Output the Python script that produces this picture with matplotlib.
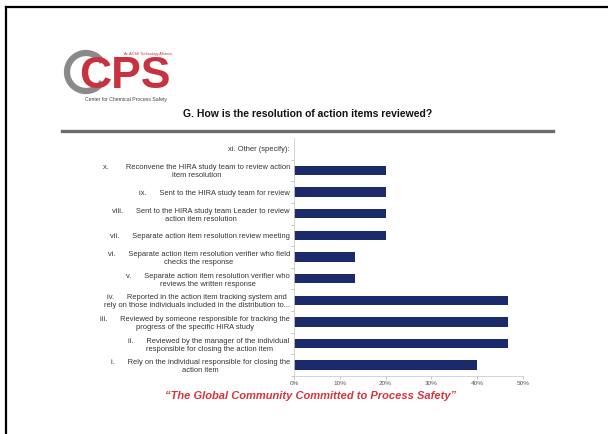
import matplotlib.pyplot as plt
import matplotlib.patches as mpatches
import numpy as np

plt.rcParams['font.family'] = ['Liberation Sans', 'DejaVu Sans']

# Answers to question G, share of respondents (%)
labels = [
    "i.      Rely on the individual responsible for closing the\naction item",
    "ii.      Reviewed by the manager of the individual\nresponsible for closing the action item",
    "iii.      Reviewed by someone responsible for tracking the\nprogress of the specific HIRA study",
    "iv.      Reported in the action item tracking system and\nrely on those individuals included in the distribution to...",
    "v.      Separate action item resolution verifier who\nreviews the written response",
    "vi.      Separate action item resolution verifier who field\nchecks the response",
    "vii.      Separate action item resolution review meeting",
    "viii.      Sent to the HIRA study team Leader to review\naction item resolution",
    "ix.      Sent to the HIRA study team for review",
    "x.        Reconvene the HIRA study team to review action\nitem resolution",
    "xi. Other (specify):",
]
values = [40.0, 46.7, 46.7, 46.7, 13.3, 13.3, 20.0, 20.0, 20.0, 20.0, 0.0]
xticks = [0, 10, 20, 30, 40, 50]

W, H = 608, 434
fig = plt.figure(figsize=(W / 100, H / 100), dpi=100)


def px(x, y):
    return x / W, 1 - y / H


# slide frame (top and left edges)
fig.add_artist(plt.Line2D([6 / W, 1], [1 - 7 / H, 1 - 7 / H], color='black', lw=1.6))
fig.add_artist(plt.Line2D([6 / W, 6 / W], [0, 1 - 7 / H], color='black', lw=1.6))

# CCPS logo
fig.add_artist(mpatches.Arc(px(86, 72), 38 / W, 38 / H, theta1=40, theta2=320,
                            color='#8a8a8a', lw=4.5, transform=fig.transFigure))
fig.text(*px(79, 77), "CPS", color='#c8323f', fontsize=32, fontweight='bold',
         va='center', ha='left')
fig.text(*px(148, 54), "An AIChE Technology Alliance", color='#c8323f',
         fontsize=2.6, ha='center', va='center')
fig.text(*px(126, 100), "Center for Chemical Process Safety", color='#444444',
         fontsize=3.7, ha='center', va='center')

# title and rule
fig.text(*px(308, 114), "G. How is the resolution of action items reviewed?",
         fontsize=7.5, fontweight='bold', ha='center', va='center', color='#111111')
fig.add_artist(plt.Line2D([62 / W, 553 / W], [1 - 131 / H, 1 - 131 / H],
                          color='#6b6b6b', lw=2.4))

# bar chart
ax = fig.add_axes([294 / W, 1 - 376 / H, 229 / W, 238 / H])
y = np.arange(len(values))
ax.barh(y, values, height=0.44, color='#1b2a6b')
ax.set_xlim(0, 50)
ax.set_ylim(-0.5, len(values) - 0.5)
ax.set_xticks(xticks)
ax.set_xticklabels([f"{t}%" for t in xticks], fontsize=4.6, color='#555555')
ax.set_yticks(y)
ax.set_yticklabels(labels, fontsize=5.4, color='#333333', multialignment='center')
ax.tick_params(axis='y', length=0, pad=3)
ax.set_yticks(np.arange(len(values)) - 0.5, minor=True)
ax.tick_params(axis='y', which='minor', length=2.5, color='#bbbbbb', width=0.6)
ax.tick_params(axis='x', length=2, color='#bbbbbb', width=0.6, pad=1.5)
for s in ['top', 'right']:
    ax.spines[s].set_visible(False)
for s in ['left', 'bottom']:
    ax.spines[s].set_color('#cccccc')
    ax.spines[s].set_linewidth(0.6)

# footer slogan
fig.text(*px(311, 396), "\u201cThe Global Community Committed to Process Safety\u201d",
         color='#d6343f', fontsize=8, fontweight='bold', fontstyle='italic',
         ha='center', va='center')

fig.savefig('out.png', dpi=100)
